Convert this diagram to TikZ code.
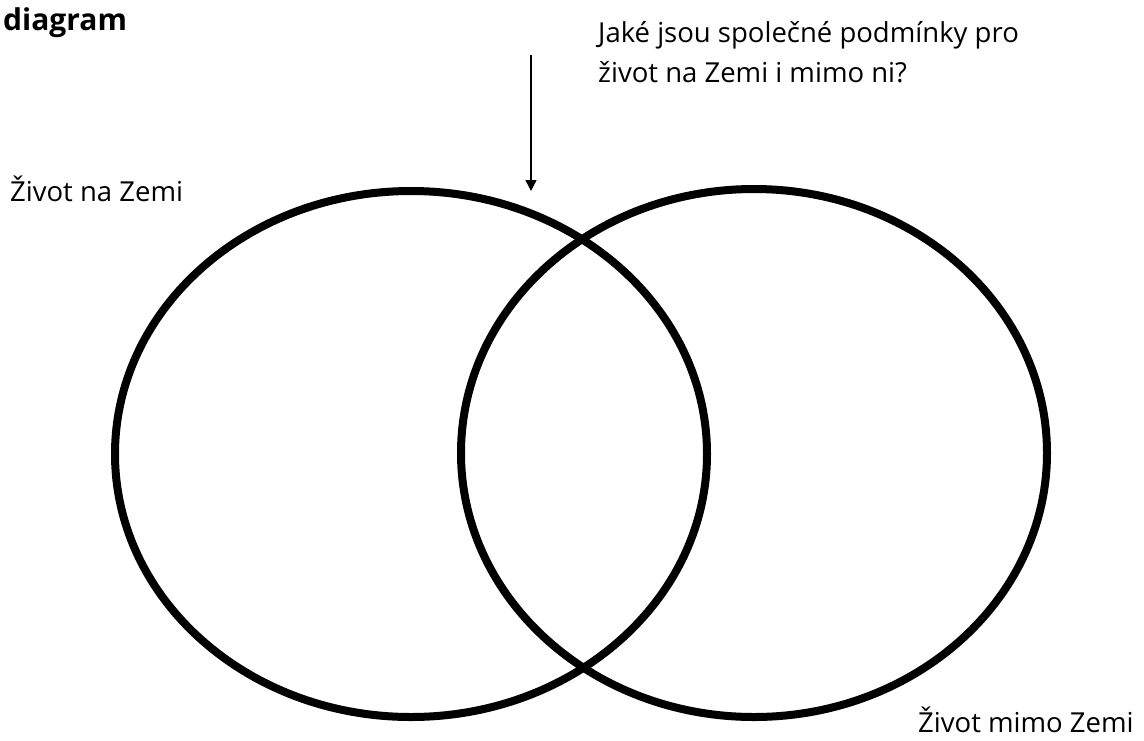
\documentclass[tikz,border=0pt]{standalone}
\usepackage{fontspec}
\setmainfont{Open Sans}
\usetikzlibrary{arrows.meta,shapes.geometric}
\tikzset{
  >={Triangle[length=11pt,width=11pt]},
  setring/.style={ellipse, draw=black, line width=8pt, inner sep=0pt},
  label/.style={font=\fontsize{27.5}{40}\selectfont, inner sep=0pt, anchor=base west},
  headtext/.style={font=\fontsize{30}{34}\selectfont\bfseries, inner sep=0pt, anchor=base west},
}
\begin{document}
\begin{tikzpicture}[x=1pt, y=-1pt]
  \useasboundingbox[fill=white] (0,0) rectangle (1144,740);

  \node[headtext] (title) at (3,30) {diagram};
  % base anchor sits on the last line
  \node[label, align=left] (question) at (598,82)
    {Jaké jsou společné podmínky pro\\život na Zemi i mimo ni?};

  \node[setring, minimum width=592pt, minimum height=526pt] (earth) at (411,454) {};
  \node[setring, minimum width=586pt, minimum height=528pt] (beyond) at (754,453) {};

  \node[label] (earthlabel) at (10,201) {Život na Zemi};
  \node[label] (beyondlabel) at (918,732) {Život mimo Zemi};

  \coordinate (arrowtop) at (531,55);
  \coordinate (arrowtip) at (531,191);
  \draw[->, line width=1.4pt] (arrowtop) -- (arrowtip);
\end{tikzpicture}
\end{document}
